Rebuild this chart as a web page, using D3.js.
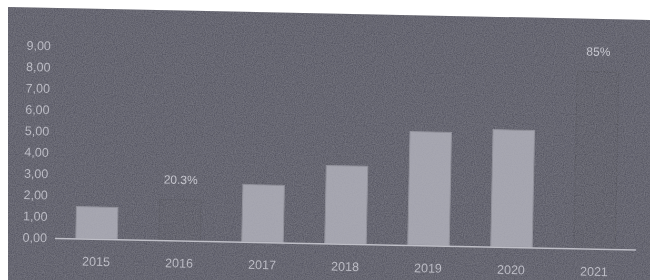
<!DOCTYPE html>
<html>
<head>
<meta charset="utf-8">
<script src="https://cdn.jsdelivr.net/npm/d3@7"></script>
<style>
  body { margin: 0; background: #fff; }
</style>
</head>
<body>
<div class="canvas"></div>
<script>
const dimensions = { width: 650, height: 280 };

// data
const years = ['2015', '2016', '2017', '2018', '2019', '2020', '2021'];
const values = [1.49, 1.9, 2.68, 3.65, 5.32, 5.49, 8.3];
const faint = [false, true, false, false, false, false, true];
const notes = ['', '20.3%', '', '', '', '', '85%'];
const yTicks = [0, 1, 2, 3, 4, 5, 6, 7, 8, 9];

const svg = d3.select('.canvas')
    .append('svg')
    .attr('width', dimensions.width)
    .attr('height', dimensions.height);

// grain like the printed / photographed page
const defs = svg.append('defs');
const grain = defs.append('filter').attr('id', 'grain')
    .attr('x', 0).attr('y', 0).attr('width', '100%').attr('height', '100%');
grain.append('feTurbulence')
    .attr('type', 'fractalNoise')
    .attr('baseFrequency', 0.9)
    .attr('numOctaves', 2)
    .attr('seed', 4)
    .attr('result', 'noise');
grain.append('feColorMatrix')
    .attr('in', 'noise')
    .attr('type', 'matrix')
    .attr('values', '0 0 0 0 0.5  0 0 0 0 0.5  0 0 0 0 0.56  0 0 0 0.28 0')
    .attr('result', 'tint');
grain.append('feComposite')
    .attr('in', 'tint').attr('in2', 'SourceGraphic').attr('operator', 'in')
    .attr('result', 'grainIn');
const merge = grain.append('feMerge');
merge.append('feMergeNode').attr('in', 'SourceGraphic');
merge.append('feMergeNode').attr('in', 'grainIn');

const paper = svg.append('g').attr('filter', 'url(#grain)');

// photographed sheet: top edge runs slightly downhill
paper.append('path')
    .attr('d', 'M8,7 L650,20 L650,280 L8,280 Z')
    .attr('fill', '#50505b');

// page content is slightly skewed in the photo
const page = paper.append('g')
    .attr('transform', 'rotate(1.15, 8, 140)');

const x = d3.scaleBand()
    .domain(years)
    .range([57, 638])
    .paddingInner(0.5)
    .paddingOuter(0.25);

const y = d3.scaleLinear()
    .domain([0, 9])
    .range([237, 45]);

const fmt = d => d3.format('.2f')(d).replace('.', ',');
const font = 'Liberation Sans, Arial, sans-serif';
const textColour = '#bdbdc6';

// y labels
page.append('g')
    .selectAll('text')
    .data(yTicks)
    .enter()
    .append('text')
    .attr('x', 49)
    .attr('y', d => y(d))
    .attr('dy', '0.35em')
    .attr('text-anchor', 'end')
    .attr('font-family', font)
    .attr('font-size', 12.5)
    .attr('fill', textColour)
    .text(fmt);

// bars
const rows = years.map((yr, i) => ({ year: yr, value: values[i], faint: faint[i], note: notes[i] }));

page.append('g')
    .selectAll('rect')
    .data(rows)
    .enter()
    .append('rect')
    .attr('x', d => x(d.year))
    .attr('y', d => y(d.value))
    .attr('width', x.bandwidth())
    .attr('height', d => y(0) - y(d.value))
    .attr('fill', d => d.faint ? '#4e4e59' : '#a2a2ac')
    .attr('stroke', d => d.faint ? '#44444e' : '#8a8a94')
    .attr('stroke-width', 1);

// baseline
page.append('line')
    .attr('x1', x.range()[0])
    .attr('x2', x.range()[1])
    .attr('y1', y(0) + 0.5)
    .attr('y2', y(0) + 0.5)
    .attr('stroke', '#c0c0c8')
    .attr('stroke-width', 1.5);

// year labels
page.append('g')
    .selectAll('text')
    .data(years)
    .enter()
    .append('text')
    .attr('x', d => x(d) + x.bandwidth() / 2)
    .attr('y', y(0) + 27)
    .attr('text-anchor', 'middle')
    .attr('font-family', font)
    .attr('font-size', 12.5)
    .attr('fill', textColour)
    .text(d => d);

// growth notes
page.append('g')
    .selectAll('text')
    .data(rows.filter(d => d.note))
    .enter()
    .append('text')
    .attr('x', d => x(d.year) + x.bandwidth() / 2)
    .attr('y', d => y(d.value) - 16)
    .attr('text-anchor', 'middle')
    .attr('font-family', font)
    .attr('font-size', 12)
    .attr('fill', '#cacad2')
    .text(d => d.note);
</script>
</body>
</html>
